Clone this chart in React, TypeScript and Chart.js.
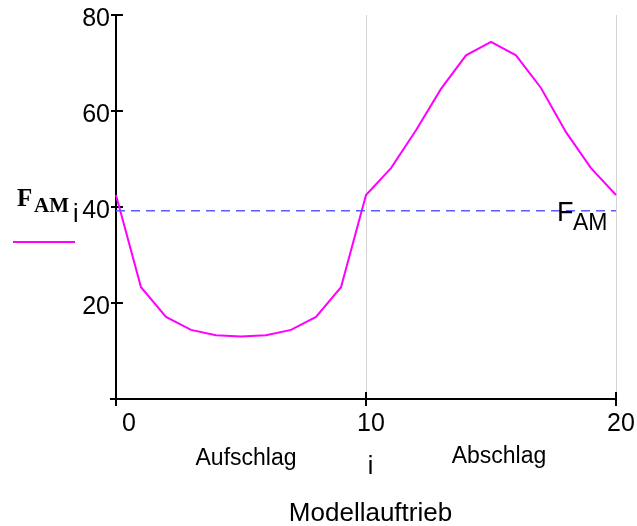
import React, { useEffect, useRef } from "react";
import { Chart, registerables } from "chart.js";

Chart.register(...registerables);

// Index i of the model lift samples
const indexValues = [0, 1, 2, 3, 4, 5, 6, 7, 8, 9, 10, 11, 12, 13, 14, 15, 16, 17, 18, 19, 20];
// F_AM_i per index
const famValues = [42.5, 23.3, 17.1, 14.4, 13.3, 13.0, 13.3, 14.4, 17.1, 23.3, 42.5, 48.1, 56.0, 64.6, 71.6, 74.4, 71.6, 64.8, 55.6, 48.1, 42.5];
// Mean value F_AM
const famMean = 39.2;

const xTicks = [0, 10, 20];
const yTicks = [20, 40, 60, 80];
const xGridLines = [10, 20];

const SANS = "'Liberation Sans', Arial, sans-serif";
const SERIF = "'Liberation Serif', 'Times New Roman', serif";

const axesPlugin = {
  id: "mathAxes",
  beforeDatasetsDraw(chart: any) {
    const { ctx, scales } = chart;
    const xs = scales.x;
    const ys = scales.y;
    const x0 = xs.getPixelForValue(0);
    const x1 = xs.getPixelForValue(20);
    const y0 = ys.getPixelForValue(0);
    const yTop = ys.getPixelForValue(80);
    ctx.save();
    // vertical grid lines
    ctx.strokeStyle = "#d4d4d4";
    ctx.lineWidth = 1;
    for (const g of xGridLines) {
      const px = Math.round(xs.getPixelForValue(g)) + 0.5;
      ctx.beginPath();
      ctx.moveTo(px, yTop);
      ctx.lineTo(px, y0);
      ctx.stroke();
    }
    // axes
    ctx.strokeStyle = "#000";
    ctx.lineWidth = 2;
    ctx.beginPath();
    ctx.moveTo(x0, yTop);
    ctx.lineTo(x0, y0 + 7);
    ctx.moveTo(x0 - 6, y0);
    ctx.lineTo(x1, y0);
    ctx.stroke();
    // tick marks
    ctx.beginPath();
    for (const t of yTicks) {
      const py = ys.getPixelForValue(t);
      ctx.moveTo(x0 - 5, py);
      ctx.lineTo(x0 + 7, py);
    }
    for (const t of xTicks) {
      if (t === 0) continue;
      const px = xs.getPixelForValue(t);
      ctx.moveTo(px, y0 - 7);
      ctx.lineTo(px, y0 + 7);
    }
    ctx.stroke();
    ctx.restore();
  },
  afterDraw(chart: any) {
    const { ctx, scales } = chart;
    const xs = scales.x;
    const ys = scales.y;
    const x0 = xs.getPixelForValue(0);
    const y0 = ys.getPixelForValue(0);
    ctx.save();
    ctx.fillStyle = "#000";
    ctx.textBaseline = "alphabetic";

    // y tick labels
    ctx.font = `25px ${SANS}`;
    ctx.textAlign = "right";
    for (const t of yTicks) {
      const py = ys.getPixelForValue(t);
      ctx.fillText(String(t), x0 - 6, py + 11);
    }
    // x tick labels
    for (const t of xTicks) {
      const px = xs.getPixelForValue(t);
      if (t === 0) {
        ctx.textAlign = "left";
        ctx.fillText(String(t), px + 6, y0 + 32);
      } else {
        ctx.textAlign = "center";
        ctx.fillText(String(t), px + 5, y0 + 32);
      }
    }

    // region labels and axis variable
    ctx.textAlign = "center";
    ctx.font = `23px ${SANS}`;
    ctx.fillText("Aufschlag", xs.getPixelForValue(5.2), y0 + 66);
    ctx.fillText("Abschlag", xs.getPixelForValue(15.32), y0 + 64);
    ctx.font = `25px ${SANS}`;
    ctx.fillText("i", xs.getPixelForValue(10.18), y0 + 75);
    ctx.font = `26px ${SANS}`;
    ctx.fillText("Modellauftrieb", xs.getPixelForValue(10.18), y0 + 122);

    // F_AM label on the mean line
    const meanY = ys.getPixelForValue(famMean);
    ctx.textAlign = "left";
    ctx.font = `27px ${SANS}`;
    ctx.fillText("F", 557, meanY + 10);
    ctx.font = `23px ${SANS}`;
    ctx.fillText("AM", 573, meanY + 19);

    // legend entry F_AM_i
    ctx.font = `bold 25px ${SERIF}`;
    ctx.fillText("F", 17, 206);
    ctx.font = `bold 21px ${SERIF}`;
    ctx.fillText("AM", 34, 212);
    ctx.font = `25px ${SANS}`;
    ctx.fillText("i", 73, 222);
    ctx.strokeStyle = "#ff00ff";
    ctx.lineWidth = 2;
    ctx.beginPath();
    ctx.moveTo(13, 242);
    ctx.lineTo(75, 242);
    ctx.stroke();
    ctx.restore();
  },
};

export default function App() {
  const canvasRef = useRef<HTMLCanvasElement | null>(null);

  useEffect(() => {
    if (!canvasRef.current) return;
    const chart = new Chart(canvasRef.current, {
      type: "line",
      data: {
        datasets: [
          {
            label: "F_AM",
            data: [
              { x: indexValues[0], y: famMean },
              { x: indexValues[indexValues.length - 1], y: famMean },
            ],
            borderColor: "#5b5bff",
            borderWidth: 1.5,
            borderDash: [9, 6],
            pointRadius: 0,
            clip: false,
          },
          {
            label: "F_AM_i",
            data: indexValues.map((i, k) => ({ x: i, y: famValues[k] })),
            borderColor: "#ff00ff",
            borderWidth: 2,
            pointRadius: 0,
            tension: 0,
            clip: false,
          },
        ],
      },
      options: {
        responsive: false,
        animation: false,
        layout: { padding: { left: 116, right: 21, top: 15, bottom: 127 } },
        plugins: { legend: { display: false }, tooltip: { enabled: false } },
        scales: {
          x: { type: "linear", min: 0, max: 20, display: false },
          y: { type: "linear", min: 0, max: 80, display: false },
        },
      },
      plugins: [axesPlugin],
    });
    return () => chart.destroy();
  }, []);

  return (
    <div style={{ position: "absolute", left: 0, top: 0, width: 637, height: 526, background: "#fff" }}>
      <canvas ref={canvasRef} width={637} height={526} />
    </div>
  );
}
